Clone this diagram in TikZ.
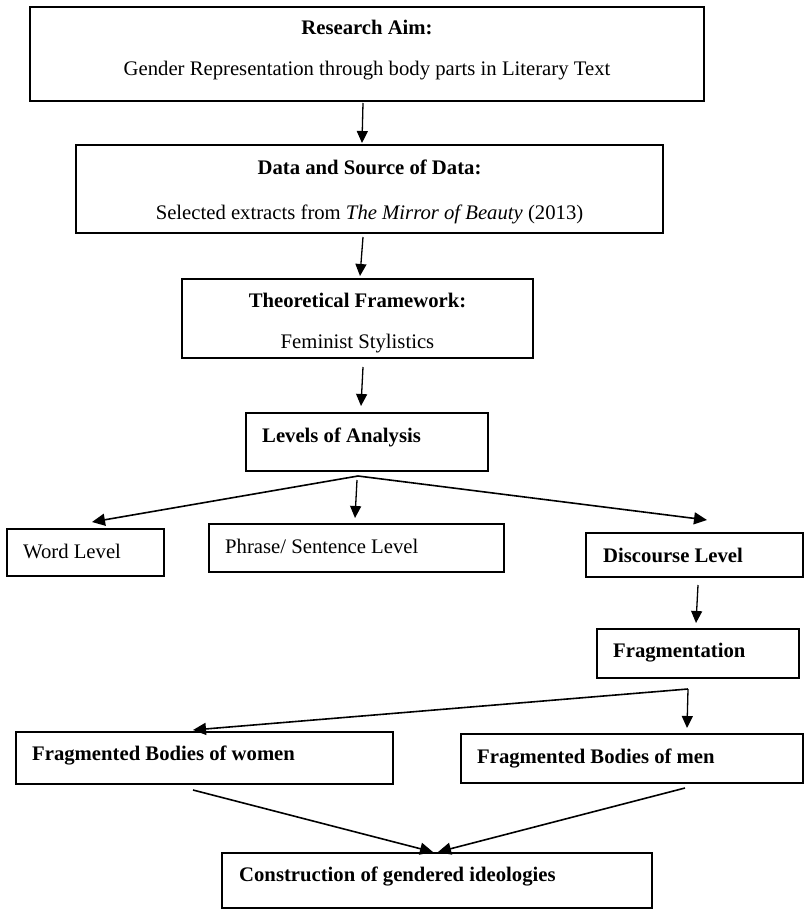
\documentclass[tikz,border=0pt]{standalone}
\usepackage{fontspec}
\setmainfont{Liberation Serif}
\usetikzlibrary{arrows.meta,calc}
\tikzset{
  box/.style={draw, line width=1.3pt, inner sep=0pt, outer sep=0pt, anchor=north west},
  lbl/.style={inner sep=0pt, anchor=base},
  lbll/.style={inner sep=0pt, anchor=base west},
  arr/.style={line width=1.3pt, -{Triangle[length=12pt,width=11pt]}},
  brarr/.style={line width=1.6pt, -{Triangle[length=13pt,width=12pt]}},
  brline/.style={line width=1.6pt}
}
\begin{document}
\begin{tikzpicture}[x=1pt,y=-1pt,font=\fontsize{20.7}{24}\selectfont]
\useasboundingbox (0,0) rectangle (810,915);
% boxes
\node[box, line width=2pt, minimum width=674pt, minimum height=94pt] (aim) at (30,7) {};
\node[box, minimum width=587pt, minimum height=88pt] (data) at (76,145) {};
\node[box, minimum width=351pt, minimum height=79pt] (theory) at (182,279) {};
\node[box, minimum width=242pt, minimum height=58pt] (levels) at (246,413) {};
\node[box, minimum width=157pt, minimum height=47pt] (word) at (7,529) {};
\node[box, minimum width=295pt, minimum height=48pt] (phrase) at (209,524) {};
\node[box, minimum width=217pt, minimum height=44pt] (disc) at (586,533) {};
\node[box, minimum width=202pt, minimum height=49pt] (frag) at (597,629) {};
\node[box, minimum width=377pt, minimum height=52pt] (women) at (16,732) {};
\node[box, minimum width=342pt, minimum height=49pt] (men) at (461,734) {};
\node[box, minimum width=430pt, minimum height=55pt] (cons) at (222,853) {};
% texts
\node[lbl] (aimT) at (367,35) {\textbf{Research Aim:}};
\node[lbl] (aimS) at (367,76) {Gender Representation through body parts in Literary Text};
\node[lbl] (dataT) at (369.5,174) {\textbf{Data and Source of Data:}};
\node[lbl] (dataS) at (369.5,219) {Selected extracts from \textit{The Mirror of Beauty} (2013)};
\node[lbl] (thT) at (357.5,307) {\textbf{Theoretical Framework:}};
\node[lbl] (thS) at (357.5,348) {Feminist Stylistics};
\node[lbll] (levT) at (262,442) {\textbf{Levels of Analysis}};
\node[lbll] (wordT) at (23,558) {Word Level};
\node[lbll] (phraseT) at (225,553) {Phrase/ Sentence Level};
\node[lbll] (discT) at (603,562) {\textbf{Discourse Level}};
\node[lbll] (fragT) at (613,657) {\textbf{Fragmentation}};
\node[lbll] (womenT) at (32,760) {\textbf{Fragmented Bodies of women}};
\node[lbll] (menT) at (477,763) {\textbf{Fragmented Bodies of men}};
\node[lbll] (consT) at (239,881) {\textbf{Construction of gendered ideologies}};
% connectors
\draw[arr] ($(aim.south)+(-4,2)$) -- ($(data.north)+(-7.5,-2)$);
\draw[arr] ($(data.south)+(-6.5,4)$) -- ($(theory.north)+(2.5,-3)$);
\draw[arr] ($(theory.south)+(5.5,9)$) -- ($(levels.north)+(-6,-7)$);
\coordinate (lb) at ($(levels.south)+(-9,5)$);
\draw[brarr] (lb) -- ($(word.north)+(6.5,-7)$);
\draw[arr] ($(lb)+(-1,4)$) -- ($(phrase.north)+(-1.5,-6)$);
\draw[brarr] (lb) -- ($(disc.north)+(12.5,-13)$);
\draw[arr] ($(disc.south)+(3.5,8)$) -- ($(frag.north)+(-2,-6)$);
\coordinate (fb) at ($(frag.south)+(-10,11)$);
\draw[brarr] (fb) -- ($(women.north)+(-11.5,-2)$);
\draw[arr] (fb) -- ($(men.north)+(55,-6)$);
\draw[brarr] ($(women.south)+(-11.5,6)$) -- ($(cons.north)+(-4,-1)$);
\draw[brarr] ($(men.south)+(53,5)$) -- ($(cons.north)+(1,-1)$);
\end{tikzpicture}
\end{document}
